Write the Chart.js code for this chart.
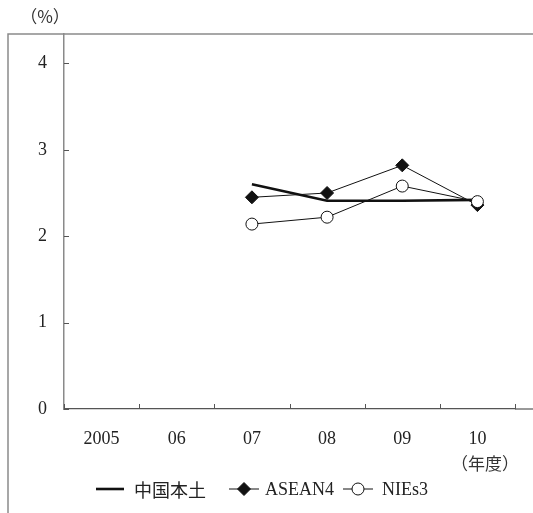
<!DOCTYPE html>
<html>
<head>
<meta charset="utf-8">
<script src="https://cdn.jsdelivr.net/npm/chart.js@4.4.1/dist/chart.umd.min.js"></script>
<style>
  html, body { margin: 0; padding: 0; background: #fff; }
  #wrap { width: 533px; height: 513px; position: relative; }
</style>
</head>
<body>
<div id="wrap"><canvas id="c" width="533" height="513"></canvas></div>
<script>
// Fiscal years on the horizontal axis
const years = ['2005', '06', '07', '08', '09', '10'];
// Rates (%) by region; the first two years have no data
const mainlandChina = [null, null, 2.60, 2.41, 2.41, 2.42];
const asean4 = [null, null, 2.45, 2.50, 2.82, 2.36];
const nies3 = [null, null, 2.14, 2.22, 2.58, 2.40];
const yTicks = [0, 1, 2, 3, 4];
const seriesNames = ['中国本土', 'ASEAN4', 'NIEs3'];

const SERIF = '"Liberation Serif", "Times New Roman", Times, serif';
const CJK = '"Noto Sans CJK JP", sans-serif';

// Frame, inward tick marks, unit captions and the legend
const extras = {
  id: 'extras',
  afterDraw(chart) {
    const ctx = chart.ctx;
    const area = chart.chartArea;
    const xs = chart.scales.x;
    const ys = chart.scales.y;
    ctx.save();

    // outer frame (top and left)
    ctx.strokeStyle = '#8a8a8a';
    ctx.lineWidth = 1.5;
    ctx.beginPath();
    ctx.moveTo(8, 513);
    ctx.lineTo(8, area.top);
    ctx.lineTo(533, area.top);
    ctx.stroke();

    // x axis runs on past the last tick
    ctx.strokeStyle = '#555';
    ctx.lineWidth = 1.2;
    ctx.beginPath();
    ctx.moveTo(area.right, area.bottom);
    ctx.lineTo(533, area.bottom);
    ctx.stroke();

    // y tick marks pointing inward
    ctx.strokeStyle = '#555';
    ctx.lineWidth = 1;
    yTicks.forEach(v => {
      const y = Math.round(ys.getPixelForValue(v)) + 0.5;
      ctx.beginPath();
      ctx.moveTo(area.left, y);
      ctx.lineTo(area.left + 5, y);
      ctx.stroke();
    });

    // x tick marks at category boundaries
    const step = xs.getPixelForValue(1) - xs.getPixelForValue(0);
    for (let i = 0; i <= years.length; i++) {
      const x = Math.round(xs.getPixelForValue(i) - step / 2) + 0.5;
      ctx.beginPath();
      ctx.moveTo(x, area.bottom);
      ctx.lineTo(x, area.bottom - 5);
      ctx.stroke();
    }

    // unit captions
    ctx.fillStyle = '#333';
    ctx.textAlign = 'center';
    ctx.textBaseline = 'middle';
    ctx.font = '17px ' + CJK;
    ctx.fillText('（%）', 45, 17);
    ctx.fillText('（年度）', 485, 464);

    // legend
    const ly = 489;
    const items = [
      { x0: 96, x1: 124, tx: 134 },
      { x0: 229, x1: 259, tx: 265 },
      { x0: 343, x1: 373, tx: 382 }
    ];
    chart.data.datasets.forEach((ds, i) => {
      const it = items[i];
      ctx.strokeStyle = ds.borderColor;
      ctx.lineWidth = ds.borderWidth;
      ctx.beginPath();
      ctx.moveTo(it.x0, ly);
      ctx.lineTo(it.x1, ly);
      ctx.stroke();
      if (ds.pointRadius > 0) {
        const cx = (it.x0 + it.x1) / 2;
        const r = ds.pointRadius;
        ctx.fillStyle = ds.pointBackgroundColor;
        ctx.strokeStyle = ds.pointBorderColor;
        ctx.lineWidth = 1;
        ctx.beginPath();
        if (ds.pointStyle === 'rectRot') {
          ctx.moveTo(cx, ly - r);
          ctx.lineTo(cx + r, ly);
          ctx.lineTo(cx, ly + r);
          ctx.lineTo(cx - r, ly);
          ctx.closePath();
        } else {
          ctx.arc(cx, ly, r, 0, Math.PI * 2);
        }
        ctx.fill();
        ctx.stroke();
      }
      ctx.fillStyle = '#222';
      ctx.textAlign = 'left';
      ctx.textBaseline = 'middle';
      ctx.font = (i === 0 ? '18px ' + CJK : '18px ' + SERIF);
      ctx.fillText(ds.label, it.tx, ly + 1);
    });

    ctx.restore();
  }
};

new Chart(document.getElementById('c'), {
  type: 'line',
  data: {
    labels: years,
    datasets: [
      {
        label: seriesNames[0],
        data: mainlandChina,
        borderColor: '#111',
        borderWidth: 2.6,
        pointRadius: 0,
        pointHoverRadius: 0,
        order: 2,
        tension: 0
      },
      {
        label: seriesNames[1],
        data: asean4,
        borderColor: '#111',
        borderWidth: 1,
        pointStyle: 'rectRot',
        pointRadius: 6.5,
        pointBackgroundColor: '#111',
        pointBorderColor: '#111',
        pointBorderWidth: 1,
        order: 1,
        tension: 0
      },
      {
        label: seriesNames[2],
        data: nies3,
        borderColor: '#111',
        borderWidth: 1,
        pointStyle: 'circle',
        pointRadius: 6,
        pointBackgroundColor: '#fff',
        pointBorderColor: '#111',
        pointBorderWidth: 1,
        order: 0,
        tension: 0
      }
    ]
  },
  options: {
    responsive: false,
    animation: false,
    spanGaps: false,
    layout: { padding: { top: 34, right: 18, bottom: 64, left: 0 } },
    plugins: {
      legend: { display: false },
      tooltip: { enabled: false }
    },
    scales: {
      x: {
        type: 'category',
        offset: true,
        grid: { display: false, drawTicks: false },
        border: { display: true, color: '#555', width: 1.2 },
        ticks: {
          color: '#222',
          font: { family: SERIF, size: 18 },
          padding: 19,
          maxRotation: 0,
          autoSkip: false
        },
        afterFit(scale) { scale.height = 40; }
      },
      y: {
        min: 0,
        max: 4.34,
        grid: { display: false, drawTicks: false },
        border: { display: true, color: '#8a8a8a', width: 1.5 },
        afterBuildTicks(scale) {
          scale.ticks = yTicks.map(v => ({ value: v }));
        },
        ticks: {
          color: '#222',
          font: { family: SERIF, size: 18 },
          padding: 17,
          callback: v => String(v)
        },
        afterFit(scale) { scale.width = 64; }
      }
    }
  },
  plugins: [extras]
});
</script>
</body>
</html>
